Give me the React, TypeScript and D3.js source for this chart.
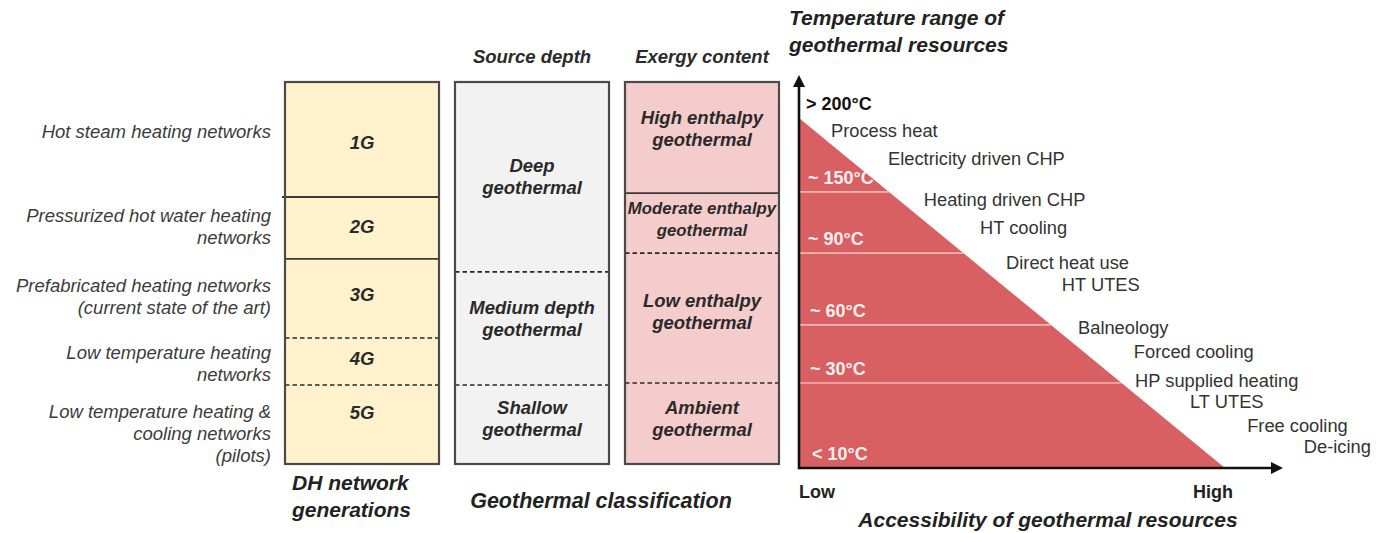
import React from "react";
import * as d3 from "d3";

// ---------- DATA ----------
const columnKeys = ["generations", "depth", "exergy"];

const generationNames = ["1G", "2G", "3G", "4G", "5G"];
const generationDescriptions = [
  ["Hot steam heating networks"],
  ["Pressurized hot water heating", "networks"],
  ["Prefabricated heating networks", "(current state of the art)"],
  ["Low temperature heating", "networks"],
  ["Low temperature heating &", "cooling networks", "(pilots)"],
];
const generationBreaks = [0.301, 0.463, 0.67, 0.793];
const generationBreakKinds = ["hard", "hard", "soft", "soft"];

const depthNames = [["Deep", "geothermal"], ["Medium depth", "geothermal"], ["Shallow", "geothermal"]];
const depthBreaks = [0.497, 0.793];
const depthBreakKinds = ["soft", "soft"];

const exergyNames = [
  ["High enthalpy", "geothermal"],
  ["Moderate enthalpy", "geothermal"],
  ["Low enthalpy", "geothermal"],
  ["Ambient", "geothermal"],
];
const exergyBreaks = [0.291, 0.448, 0.788];
const exergyBreakKinds = ["hard", "soft", "soft"];

const columnTitles = ["", "Source depth", "Exergy content"];

// temperature levels (relative height on the temperature axis)
const tempLabels = ["< 10°C", "~ 30°C", "~ 60°C", "~ 90°C", "~ 150°C", "> 200°C"];
const tempLevels = [0, 0.243, 0.409, 0.614, 0.789, 1];

// uses: relative accessibility (x) and temperature (y)
const useNames = [
  "Process heat",
  "Electricity driven CHP",
  "Heating driven CHP",
  "HT cooling",
  "Direct heat use",
  "HT UTES",
  "Balneology",
  "Forced cooling",
  "HP supplied heating",
  "LT UTES",
  "Free cooling",
  "De-icing",
];
const useAccess = [0.075, 0.209, 0.293, 0.425, 0.486, 0.617, 0.655, 0.786, 0.789, 0.918, 1.052, 1.185];
const useTemp = [0.963, 0.883, 0.766, 0.686, 0.586, 0.523, 0.4, 0.334, 0.249, 0.189, 0.12, 0.06];

// ---------- LAYOUT ----------
const W = 1389;
const H = 533;
const FONT = "'Liberation Sans', Arial, Helvetica, sans-serif";
const TEXT = "#383838";
const BORDER = "#4a4a4a";
const LINE_H = 22;

const colFills = ["#fff2cc", "#f2f2f2", "#f4cccc"];
const genLabelOffsets = [3.5, -1, -3.5, -2.5, -11.5];
const genDescOffsets = [-7.5, -1, -1.5, 2, 9.5];
const depthOffsets = [0, -9.5, -5.5];
const exergyOffsets = [-9.5, -4, -7, -5];

const colX = d3.scaleBand<string>().domain(columnKeys).range([285, 779]).paddingInner(0.094);
const colY = d3.scaleLinear().domain([0, 1]).range([82, 464]);

const triX = d3.scaleLinear().domain([0, 1]).range([799, 1225]);
const triY = d3.scaleLinear().domain([0, 1]).range([468, 118]);

function segments(breaks: number[]) {
  const b = [0, ...breaks, 1];
  return d3.pairs(b);
}

function Lines({ x, y, lines, anchor = "middle", weight = "normal", italic = true, size = 18.5, fill = TEXT, lh = LINE_H }: any) {
  const n = lines.length;
  return (
    <text
      x={x}
      fontFamily={FONT}
      fontSize={size}
      fontWeight={weight}
      fontStyle={italic ? "italic" : "normal"}
      fill={fill}
      textAnchor={anchor}
    >
      {lines.map((l: string, i: number) => (
        <tspan key={i} x={x} y={y + (i - (n - 1) / 2) * lh} dy="0.35em">
          {l}
        </tspan>
      ))}
    </text>
  );
}

function Column({ keyName, breaks, kinds, children }: any) {
  const x0 = colX(keyName)!;
  const w = colX.bandwidth();
  const i = columnKeys.indexOf(keyName);
  return (
    <g>
      <rect x={x0} y={colY(0)} width={w} height={colY(1) - colY(0)} fill={colFills[i]} stroke="none" />
      {breaks.map((b: number, j: number) => (
        <line
          key={j}
          x1={x0 - (kinds[j] === "hard" && i === 0 && j === 0 ? 3 : 0)}
          x2={x0 + w}
          y1={colY(b)}
          y2={colY(b)}
          stroke={kinds[j] === "hard" ? "#3a3a3a" : "#2a2a2a"}
          strokeWidth={kinds[j] === "hard" ? 1.8 : 1.6}
          strokeDasharray={kinds[j] === "hard" ? undefined : "4.5 3"}
        />
      ))}
      {children}
      <rect x={x0} y={colY(0)} width={w} height={colY(1) - colY(0)} fill="none" stroke={BORDER} strokeWidth={2.2} />
      {columnTitles[i] && (
        <Lines x={x0 + w / 2} y={57} lines={[columnTitles[i]]} weight="bold" size={18.5} fill="#2a2a2a" />
      )}
    </g>
  );
}

export default function App() {
  const genSegs = segments(generationBreaks);
  const depSegs = segments(depthBreaks);
  const exSegs = segments(exergyBreaks);

  const cx = (k: string) => colX(k)! + colX.bandwidth() / 2;
  const mid = (s: number[]) => colY((s[0] + s[1]) / 2);

  const triangle = d3.line()([
    [triX(0), triY(0)],
    [triX(0), triY(1)],
    [triX(1), triY(0)],
  ]);

  const axisX0 = triX(0);
  const axisY0 = triY(0);
  const xTip = 1283;
  const yTip = 75;

  return (
    <svg
      width={W}
      height={H}
      style={{ position: "absolute", left: 0, top: 0, background: "#fff" }}
      viewBox={`0 0 ${W} ${H}`}
    >
      {/* Left descriptions */}
      {generationDescriptions.map((d, i) => (
        <Lines key={i} x={271} y={mid(genSegs[i]) + genDescOffsets[i]} lines={d} anchor="end" fill="#3c3c3c" />
      ))}

      <Column keyName="generations" breaks={generationBreaks} kinds={generationBreakKinds}>
        {generationNames.map((g, i) => (
          <Lines key={g} x={cx("generations")} y={mid(genSegs[i]) + genLabelOffsets[i]} lines={[g]} weight="bold" fill="#2a2a2a" />
        ))}
      </Column>
      <Column keyName="depth" breaks={depthBreaks} kinds={depthBreakKinds}>
        {depthNames.map((g, i) => (
          <Lines key={i} x={cx("depth")} y={mid(depSegs[i]) + depthOffsets[i]} lines={g} weight="bold" fill="#2a2a2a" />
        ))}
      </Column>
      <Column keyName="exergy" breaks={exergyBreaks} kinds={exergyBreakKinds}>
        {exergyNames.map((g, i) => (
          <Lines
            key={i}
            x={cx("exergy")}
            y={mid(exSegs[i]) + exergyOffsets[i]}
            lines={g}
            weight="bold"
            size={i === 1 ? 16.8 : 18.5}
            fill="#2a2a2a"
          />
        ))}
      </Column>

      {/* Bottom titles */}
      <Lines x={292} y={496} lines={["DH network", "generations"]} anchor="start" weight="bold" size={21} fill="#222" lh={27} />
      <Lines x={601} y={500} lines={["Geothermal classification"]} weight="bold" size={21.5} fill="#222" />

      {/* Triangle */}
      <path d={triangle!} fill="#d96062" />
      {tempLevels.map((lv, i) =>
        lv > 0 && lv < 1 ? (
          <line
            key={i}
            x1={triX(0)}
            x2={triX(1 - lv)}
            y1={triY(lv)}
            y2={triY(lv)}
            stroke="#f3b5b5"
            strokeWidth={1.6}
          />
        ) : null
      )}
      {tempLabels.map((t, i) => (
        <text
          key={t}
          x={triX(0) + (i === 5 ? 7 : i === 0 ? 13 : i < 3 ? 11 : 9)}
          y={triY(tempLevels[i]) - 14}
          dy="0.35em"
          fontFamily={FONT}
          fontSize={18}
          fontWeight="bold"
          fill={i === 5 ? "#111" : "#fff"}
          fillOpacity={i === 5 ? 1 : 0.93}
        >
          {t}
        </text>
      ))}

      {/* Axes */}
      <line x1={axisX0} y1={axisY0} x2={xTip - 9} y2={axisY0} stroke="#111" strokeWidth={2.6} />
      <line x1={axisX0} y1={axisY0 + 1.3} x2={axisX0} y2={yTip + 9} stroke="#111" strokeWidth={2.6} />
      <path d={d3.line()([[xTip, axisY0], [xTip - 12, axisY0 - 6], [xTip - 12, axisY0 + 6]]) + "Z"} fill="#111" />
      <path d={d3.line()([[axisX0, yTip], [axisX0 - 6, yTip + 12], [axisX0 + 6, yTip + 12]]) + "Z"} fill="#111" />

      {/* Uses */}
      {useNames.map((u, i) => (
        <text
          key={u}
          x={triX(useAccess[i])}
          y={triY(useTemp[i])}
          dy="0.35em"
          fontFamily={FONT}
          fontSize={18.3}
          fill="#333"
        >
          {u}
        </text>
      ))}

      {/* Axis labels */}
      <text x={triX(0)} y={triY(0) + 24} dy="0.35em" fontFamily={FONT} fontSize={18} fontWeight="bold" fill="#222">
        Low
      </text>
      <text x={triX(1) + 8} y={triY(0) + 24} dy="0.35em" textAnchor="end" fontFamily={FONT} fontSize={18} fontWeight="bold" fill="#222">
        High
      </text>
      <Lines x={1048} y={520} lines={["Accessibility of geothermal resources"]} weight="bold" size={21} fill="#222" />
      <Lines x={789} y={31.5} lines={["Temperature range of", "geothermal resources"]} anchor="start" weight="bold" size={21} fill="#222" lh={27} />
    </svg>
  );
}
